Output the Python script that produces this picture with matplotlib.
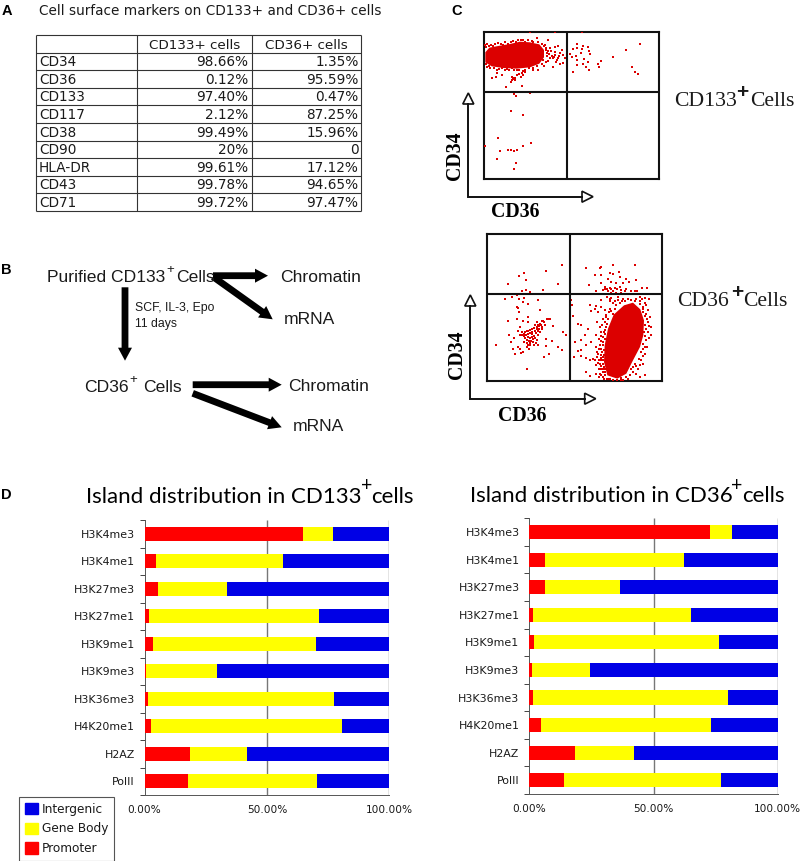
import numpy as np
import matplotlib
matplotlib.use("Agg")
import matplotlib.pyplot as plt
from matplotlib.patches import Polygon, Patch

W, H = 800, 861
# ---- panel A table
table_head = ["", "CD133+ cells", "CD36+ cells"]
markers = ["CD34", "CD36", "CD133", "CD117", "CD38", "CD90", "HLA-DR", "CD43", "CD71"]
cd133_vals = ["98.66%", "0.12%", "97.40%", "2.12%", "99.49%", "20%", "99.61%", "99.78%", "99.72%"]
cd36_vals = ["1.35%", "95.59%", "0.47%", "87.25%", "15.96%", "0", "17.12%", "94.65%", "97.47%"]

# ---- panel D bars
histones = ["H3K4me3", "H3K4me1", "H3K27me3", "H3K27me1", "H3K9me1", "H3K9me3",
            "H3K36me3", "H4K20me1", "H2AZ", "PolII"]
cd133_prom = [64.8, 4.5, 5.4, 2.0, 3.4, 0.7, 1.4, 2.7, 18.4, 17.6]
cd133_gene = [12.2, 52.0, 28.3, 69.4, 66.8, 28.8, 76.2, 78.0, 23.5, 53.0]
cd133_inter = [23.0, 43.5, 66.3, 28.6, 29.8, 70.5, 22.4, 19.3, 58.1, 29.4]
cd36_prom = [72.8, 6.3, 6.4, 1.5, 1.9, 0.9, 1.3, 4.8, 18.3, 14.0]
cd36_gene = [8.9, 55.8, 30.1, 63.5, 74.5, 23.4, 78.8, 68.4, 23.7, 63.2]
cd36_inter = [18.3, 37.9, 63.5, 35.0, 23.6, 75.7, 19.9, 26.8, 58.0, 22.8]

# ---- panel C flow cytometry: events (crop units)
top_dense = [(16,82),(28,68),(60,62),(90,57),(120,50),(150,52),(178,58),(192,75),(192,97),(178,116),
             (150,127),(110,131),(70,129),(35,124),(16,112)]
top_upper = [(15,60),(20,58),(40,62),(55,55),(70,60),(85,58),(122,46),(108,52),(135,50),(155,47),(172,40),
             (203,44),(173,52),(195,60),(210,68),(235,62),(245,75),(225,80),(200,85),(215,92),(235,98),
             (250,90),(255,100),(190,105),(205,108),(228,112),(240,118),(250,115),(220,125),(192,122),
             (175,135),(160,130),(135,135),(125,145),(110,135),(95,130),(80,132),(65,130),(50,135),(30,130),
             (22,125),(52,145),(48,155),(35,160),(67,150),(95,155),(100,162),(105,160),(92,170),(78,187),
             (125,182),(122,155),(130,150),(112,150),(150,22),(226,22),(305,22),(180,70),(190,90),(198,75),
             (210,100),(222,95),(240,85),(205,78),(225,65),(292,57),(308,62),(325,65),(290,68),(280,72),
             (305,72),(327,78),(270,88),(288,92),(303,85),(330,88),(313,103),(325,110),(290,105),(290,120),
             (310,118),(318,127),(326,135),(280,140),(362,108),(353,118),(358,127),(400,96),(437,74),(480,57),
             (456,126),(466,140),(475,148),(275,95),
             (18,66),(26,64),(34,60),(46,58),(62,56),(76,52),(92,50),(100,48),(115,44),(128,44),(145,46),
             (160,50),(185,56),(192,64),(198,68),(202,92),(208,86),(214,78),(218,100),(226,90),(232,106),
             (238,92),(198,112),(186,118),(170,124),(158,134),(146,130),(128,138),(118,134),(102,136),(88,136),
             (74,134),(58,132),(42,128),(28,122),(18,118),(99,158),(104,166),(96,164),(118,148),(136,142)]
top_lower = [(102,12),(108,18),(150,10),(92,62),(130,75),(55,145),(15,167),(153,158),(130,167),(60,183),
             (84,180),(93,180),(102,184),(111,180),(51,206),(108,219),(102,236)]
low_left = [(230,100),(183,117),(117,122),(103,131),(122,144),(70,156),(220,156),(173,174),(122,174),(112,178),
            (135,180),(105,185),(95,190),(82,195),(60,200),(102,200),(118,198),(128,215),(115,210),(160,205),
            (95,226),(100,228),(103,240),(165,235),(70,266),(95,260),(115,266),(128,256),(155,270),(172,266),
            (190,262),(205,283),(235,300),(243,308),(105,285),(100,297),(72,309),(88,318),(33,340),(85,352),
            (100,345),(105,350),(125,345),(132,350),(158,338),(183,322),(200,327),(220,345),(230,353),(192,365),
            (178,375),(108,362),(90,365),(115,360),(78,330),(126,410),(130,270),(182,342),(170,290),(112,300),
            (118,312),(125,325),(135,340),(145,330),(155,325),(158,310),(170,285),(180,280),(165,275),(150,278),
            (185,262),(175,268),(160,280),(142,290),(130,298),
            (120,300),(125,296),(135,294),(140,300),(148,288),(155,284),(162,282),(168,278),(178,270),(195,262),
            (118,306),(124,310),(130,306),(136,304),(142,306),(150,296),(156,292),(162,290),(128,316),(134,318),
            (140,314),(146,312),(152,304),(158,298),(126,332),(132,326),(138,328),(144,322),(150,318),(136,334),
            (112,308),(120,318),(128,338),(116,330),(104,310),(146,338),(154,332),(164,300)]
low_dense = [(168,220),(195,212),(217,232),(228,265),(226,310),(216,345),(195,385),(175,425),(148,440),(118,430),
             (108,390),(110,340),(120,290),(137,248)]
low_right = [(55,108),(95,108),(100,105),(135,100),(200,98),(125,122),(135,125),(152,120),(82,130),(100,128),
             (120,140),(155,135),(175,140),(205,145),(98,152),(62,158),(128,150),(145,152),(165,152),(182,150),
             (112,165),(125,168),(140,168),(155,165),(175,170),(222,168),(237,168),(105,175),(85,178),(120,178),
             (135,178),(190,178),(208,178),(118,195),(130,197),(150,195),(165,200),(180,200),(215,195),(232,198),
             (242,200),(100,205),(125,208),(140,208),(155,212),(200,208),(215,208),(230,212),(85,222),(100,225),
             (65,218),(80,232),(110,235),(125,230),(140,232),(90,240),(115,248),(70,236),(225,230),(240,235),
             (245,255),(240,270),(250,285),(250,310),(240,300),(235,325),(238,345),(230,365),(220,385),(210,410),
             (205,425),(232,430),(195,420),(215,435),(225,395),(105,262),(88,270),(95,285),(110,270),(115,285),
             (100,300),(85,310),(92,320),(105,315),(60,292),(30,275),(40,280),(15,252),(10,205),(12,218),(50,310),
             (22,330),(40,325),(55,340),(70,330),(85,345),(95,340),(102,360),(90,365),(105,375),(92,385),(105,395),
             (40,355),(30,358),(18,375),(40,372),(55,378),(65,385),(75,380),(85,400),(100,410),(110,420),(95,425),
             (105,435),(85,425),(55,420),(65,433),(120,440),(135,445),(160,443),(180,440),(175,435),(225,225),
             (235,245),(232,280),(228,300),(225,335),(218,360),(200,395),(190,410),(108,300),(105,330),(100,350),
             (108,355),(95,395),(100,385),(112,410),(105,420),(118,440),
             (112,172),(118,170),(128,172),(146,172),(160,174),(170,176),(128,184),(145,184),(160,182),(200,176),
             (125,202),(135,214),(145,220),(150,204),(162,208),(172,206),(190,204),(205,200),(222,202),(215,215),
             (235,220),(225,240),(232,252),(236,262),(242,282),(234,292),(244,318),(232,312),(230,345),(224,352),
             (226,372),(212,380),(216,398),(205,402),(196,405),(185,428),(160,438),(115,255),(120,262),(118,275),
             (102,280),(110,295),(112,305),(98,312),(110,322),(98,328),(104,340),(92,350),(98,368),(108,368),
             (86,375),(98,378),(106,384),(90,392),(100,402),(108,405),(92,410),(104,412),(112,428),(100,430),
             (92,436),(108,442),(126,442),(148,444),(165,445),(88,360),(82,385),(128,238),(134,246),(122,240)]

SANS = "DejaVu Sans"
ARIAL = "Liberation Sans"
SERIF = "Liberation Serif"
TITLE = "Lato"
RED, YEL, BLU = "#ff0000", "#ffff00", "#0000e6"
DOT = "#dc0000"
INK = "#1a1a1a"

fig = plt.figure(figsize=(W / 100, H / 100), dpi=100, facecolor="white")
ov = fig.add_axes([0, 0, 1, 1], zorder=5)
ov.set_xlim(0, W); ov.set_ylim(H, 0); ov.axis("off"); ov.patch.set_alpha(0)

def txt(x, y, s, size, family=SANS, weight="normal", color=INK, **kw):
    kw.setdefault("va", "baseline"); kw.setdefault("ha", "left")
    return ov.text(x, y, s, fontsize=size, family=family, weight=weight, color=color, **kw)

def axes_px(l, t, r, b):
    return fig.add_axes([l / W, 1 - b / H, (r - l) / W, (b - t) / H])

# panel letters
for x, y, s in [(2, 15, "A"), (1, 274, "B"), (451, 15, "C"), (1, 499, "D")]:
    txt(x, y, s, 10.5, ARIAL, "bold", "black")

# ---- A
txt(39, 15, "Cell surface markers on CD133+ and CD36+ cells", 9.8)
cols = [35.7, 137, 251.7, 361.3]
rows = np.linspace(35.3, 210.7, 11)
ov.vlines(cols, rows[0], rows[-1], color="#333333", lw=0.8)
ov.hlines(rows, cols[0], cols[-1], color="#333333", lw=0.8)
txt(195, rows[1] - 4, table_head[1], 9.7, ha="center")
txt(306.5, rows[1] - 4, table_head[2], 9.7, ha="center")
for i, m in enumerate(markers):
    y = rows[i + 2] - 4
    txt(39, y, m, 9.8)
    txt(248.5, y, cd133_vals[i], 9.8, ha="right")
    txt(358.5, y, cd36_vals[i], 9.8, ha="right")

# ---- B
def bold_arrow(x0, y0, x1, y1, w=6.8, hw=14, hl=13):
    ov.arrow(x0, y0, x1 - x0, y1 - y0, width=w, head_width=hw, head_length=hl,
             length_includes_head=True, color="black", lw=0)

txt(47, 281.7, "Purified CD133", 12.6, ARIAL)
txt(166, 273, "+", 9.5, ARIAL)
txt(176, 281.7, "Cells", 12.6, ARIAL)
bold_arrow(213, 275.7, 268, 275.7)
bold_arrow(213, 276.7, 272.7, 319.3)
bold_arrow(125, 287.3, 125, 360.7)
bold_arrow(192.7, 384.7, 281.7, 384.7)
bold_arrow(192.7, 393.3, 281.7, 427.3)
txt(280, 281.7, "Chromatin", 12.6, ARIAL)
txt(283.7, 324, "mRNA", 12.6, ARIAL)
txt(135, 311, "SCF, IL-3, Epo", 8.8, ARIAL)
txt(135, 327.3, "11 days", 8.8, ARIAL)
txt(84, 391.7, "CD36", 12.6, ARIAL)
txt(129, 383, "+", 9.5, ARIAL)
txt(143, 391.7, "Cells", 12.6, ARIAL)
txt(288.3, 390.7, "Chromatin", 12.6, ARIAL)
txt(292.7, 431, "mRNA", 12.6, ARIAL)

# ---- C
def to_panel(pts, ox, oy):
    a = np.array(pts, float)
    return a[:, 0] / 3 + ox, oy - a[:, 1] / 3

def flow_axes(l, t, r, b, vx, hy):
    ax = axes_px(l, t, r, b)
    ax.set_xlim(0, r - l); ax.set_ylim(0, b - t)
    ax.set_xticks([]); ax.set_yticks([])
    for s in ax.spines.values():
        s.set_linewidth(1.5); s.set_color("#111111")
    ax.axvline(vx - l, color="#111111", lw=1.5, zorder=4)
    ax.axhline(b - hy, color="#111111", lw=1.5, zorder=4)
    return ax

def dots(ax, pts, ox, oy):
    x, y = to_panel(pts, ox, oy)
    ax.scatter(x, y, s=1.3, marker="s", color=DOT, linewidths=0, zorder=3)

def blob(ax, pts, ox, oy):
    x, y = to_panel(pts, ox, oy)
    ax.fill(x, y, color=DOT, lw=0, zorder=3)

a1 = flow_axes(484, 31.7, 659.3, 179.3, 567.3, 91.7)
blob(a1, top_dense, -4, 154.3)
dots(a1, top_upper, -4, 154.3)
dots(a1, top_lower, -4, 89.3)
a2 = flow_axes(487.3, 234, 662, 381.3, 570.3, 294)
dots(a2, low_left, -2.3, 149.3)
blob(a2, low_dense, 80.7, 149.3)
dots(a2, low_right, 80.7, 149.3)

def axis_arrows(x0, y0, ytip, xtip):
    ov.plot([x0, x0, xtip - 11], [ytip + 11, y0, y0], color="#111111", lw=1.4, solid_joinstyle="miter")
    ov.add_patch(Polygon([(x0, ytip), (x0 - 5.5, ytip + 11), (x0 + 5.5, ytip + 11)], closed=True,
                         fc="white", ec="#111111", lw=1.2))
    ov.add_patch(Polygon([(xtip, y0), (xtip - 11, y0 - 5.5), (xtip - 11, y0 + 5.5)], closed=True,
                         fc="white", ec="#111111", lw=1.2))

axis_arrows(468.3, 196.7, 93, 593)
axis_arrows(470.3, 398.7, 295, 595.7)
txt(490.7, 216.7, "CD36", 14.3, SERIF, "bold", "black")
txt(497.7, 421, "CD36", 14.3, SERIF, "bold", "black")
txt(455, 156, "CD34", 14.3, SERIF, "bold", "black", rotation=90, ha="center", va="center")
txt(456.7, 354.7, "CD34", 14.3, SERIF, "bold", "black", rotation=90, ha="center", va="center")
txt(674, 106, "CD133", 15.6, SERIF)
txt(736, 98, "+", 15, ARIAL, "bold")
txt(750, 106, "Cells", 15.6, SERIF)
txt(677.3, 305.7, "CD36", 15.6, SERIF)
txt(731, 297.5, "+", 15, ARIAL, "bold")
txt(743, 305.7, "Cells", 15.6, SERIF)

# ---- D
def stacked(l, t, r, b, prom, gene, inter):
    ax = axes_px(l, t, r, b)
    y = np.arange(len(histones))
    prom, gene, inter = map(np.array, (prom, gene, inter))
    ax.barh(y, prom, 0.51, color=RED, zorder=3)
    ax.barh(y, gene, 0.51, left=prom, color=YEL, zorder=3)
    ax.barh(y, inter, 0.51, left=prom + gene, color=BLU, zorder=3)
    ax.set_xlim(0, 100); ax.set_ylim(len(histones) - 0.5, -0.5)
    ax.set_xticks([0, 50, 100], ["0.00%", "50.00%", "100.00%"], fontsize=7.6, color=INK, family=SANS)
    ax.tick_params(axis="x", length=0, pad=7)
    ax.set_yticks(np.arange(-0.5, len(histones)), labels=[])
    ax.set_yticks(y, histones, minor=True, fontsize=7.9, color=INK, family=SANS)
    ax.tick_params(axis="y", which="major", length=3.5, width=0.7, color="#444444", direction="out")
    ax.tick_params(axis="y", which="minor", length=0, pad=7)
    for s in ("top", "right"):
        ax.spines[s].set_visible(False)
    for s in ("left", "bottom"):
        ax.spines[s].set_linewidth(0.7); ax.spines[s].set_color("#555555")
    ax.vlines([50, 100], -0.5, len(histones) - 0.5, color="#777777", lw=1, zorder=2)
    return ax

ax_l = stacked(144.5, 520, 389.3, 795, cd133_prom, cd133_gene, cd133_inter)
ax_r = stacked(529.3, 518.3, 777.7, 794, cd36_prom, cd36_gene, cd36_inter)

txt(86.5, 503, "Island distribution in CD133", 16, TITLE, color="black")
txt(360.5, 491, "+", 14, TITLE, color="black")
txt(371, 503, "cells", 16, TITLE, color="black")
txt(470, 501.7, "Island distribution in CD36", 16, TITLE, color="black")
txt(730.5, 491, "+", 14, TITLE, color="black")
txt(742, 501.7, "cells", 16, TITLE, color="black")

leg = fig.legend([Patch(color=BLU), Patch(color=YEL), Patch(color=RED)],
                 ["Intergenic", "Gene Body", "Promoter"],
                 loc="lower left", bbox_to_anchor=(19.3 / W, 1 - 860.5 / H), fontsize=8.7,
                 frameon=True, fancybox=False, edgecolor="#555555", framealpha=1,
                 borderpad=0.45, labelspacing=0.55, handlelength=1.12, handleheight=1.05,
                 handletextpad=0.3, borderaxespad=0)
leg.get_frame().set_linewidth(0.8)
for t in leg.get_texts():
    t.set_color(INK)
leg.set_zorder(10)

fig.savefig("out.png", dpi=100, facecolor="white")
